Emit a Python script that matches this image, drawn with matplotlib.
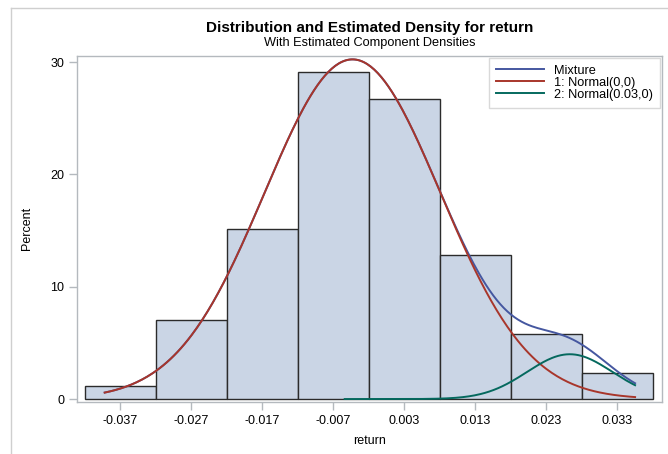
import numpy as np
import matplotlib
matplotlib.use('Agg')
import matplotlib.pyplot as plt
from matplotlib.lines import Line2D

plt.rcParams['font.family'] = ['Liberation Sans', 'DejaVu Sans']

# Histogram of return (bin midpoints, percent of observations)
bin_mids = [-0.037, -0.027, -0.017, -0.007, 0.003, 0.013, 0.023, 0.033]
percents = [1.2, 7.0, 15.1, 29.1, 26.7, 12.8, 5.8, 2.3]
bin_width = 0.01
tick_vals = bin_mids

# Estimated normal mixture components
comp_means = [-0.0043, 0.0263]
comp_sds = [0.0124, 0.0060]
comp_weights = [0.94, 0.06]
comp_labels = ['1: Normal(0,0)', '2: Normal(0.03,0)']
curve_start = [-0.0392, -0.0054]
curve_end = 0.0355

BAR_FILL = '#CAD5E5'
FRAME = '#B4B9BE'
MIX_COLOR = '#4557A0'
COMP_COLORS = ['#A8362B', '#05695E']


def component_percent(x, k):
    # density scaled to percent-per-bin so it sits on the histogram
    z = (x - comp_means[k]) / comp_sds[k]
    pdf = np.exp(-0.5 * z * z) / (comp_sds[k] * np.sqrt(2 * np.pi))
    return 100 * bin_width * comp_weights[k] * pdf


fig = plt.figure(figsize=(6.68, 4.54), dpi=100)
ax = fig.add_axes([0.1157, 0.1156, 0.8749, 0.7617])

ax.bar(bin_mids, percents, width=bin_width, color=BAR_FILL,
       edgecolor='#2b2b2b', linewidth=1.0, zorder=2)

xs = np.linspace(curve_start[0], curve_end, 300)
mix = component_percent(xs, 0) + component_percent(xs, 1)
ax.plot(xs, mix, color=MIX_COLOR, lw=1.4, zorder=3, label='Mixture')
ax.plot(xs, component_percent(xs, 0), color=COMP_COLORS[0], lw=1.4,
        zorder=4, label=comp_labels[0])
xs2 = np.linspace(curve_start[1], curve_end, 200)
ax.plot(xs2, component_percent(xs2, 1), color=COMP_COLORS[1], lw=1.4,
        zorder=5, label=comp_labels[1])

ax.set_xlim(-0.04306, 0.03925)
ax.set_ylim(-0.22, 30.57)
ax.set_xticks(tick_vals)
ax.set_xticklabels([f'{v:.3f}' for v in tick_vals])
ax.set_yticks([0, 10, 20, 30])

for s in ax.spines.values():
    s.set_color(FRAME)
    s.set_linewidth(1.0)
ax.tick_params(colors=FRAME, labelcolor='black', labelsize=9, length=6, width=1)

ax.set_xlabel('return', fontsize=9, labelpad=6)
ax.set_ylabel('Percent', fontsize=9, labelpad=12)

leg = ax.legend(loc='upper right', fontsize=9.2, frameon=True, fancybox=False,
                handlelength=3.75, handletextpad=0.8, borderpad=0.55,
                labelspacing=0.0, borderaxespad=0.15)
leg.get_frame().set_edgecolor('#D0D0D0')
leg.get_frame().set_linewidth(1.0)

fig.text(0.553, 0.930, 'Distribution and Estimated Density for return',
         ha='center', va='baseline', fontsize=11, fontweight='bold')
fig.text(0.553, 0.8993, 'With Estimated Component Densities',
         ha='center', va='baseline', fontsize=9.2)

# page border
fig.add_artist(Line2D([11 / 668, 11 / 668], [0, 1 - 8 / 454],
                      color='#CFCFCF', lw=1.0))
fig.add_artist(Line2D([11 / 668, 1], [1 - 8 / 454, 1 - 8 / 454],
                      color='#CFCFCF', lw=1.0))

plt.savefig('out.png', dpi=100)
